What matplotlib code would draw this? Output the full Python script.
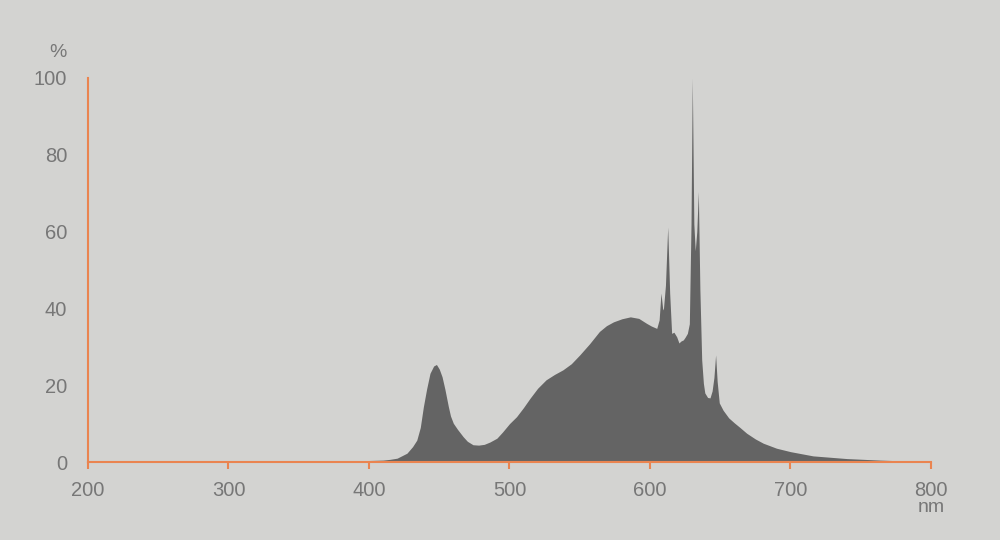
import matplotlib.pyplot as plt

# spectrum (wavelength nm, relative %)
wavelength = [380, 390, 400, 410, 415, 420, 427, 431, 434, 436.5, 438.7, 441, 443.4,
              446, 448, 450, 452, 454, 456.5, 458, 460, 463, 467, 470, 474, 478,
              482, 486, 491, 495, 500, 505, 510, 514.6, 520, 526, 532, 538, 544,
              550, 557, 564, 569, 574, 580, 586, 592, 597.6, 601, 604.8, 606.5,
              607.8, 609, 609.5, 611, 612.6, 614, 615.4, 617, 619, 620.6, 622,
              623.7, 625, 626.6, 628, 629.2, 630.1, 631.2, 632.2, 633.3, 634.4,
              635.5, 636.8, 638, 639, 641, 642.7, 644.2, 645.5, 646.7, 647.8,
              649.3, 652, 656, 660, 664, 668.8, 675, 680.6, 690, 700, 716, 740,
              763.7, 780]
intensity = [0.2, 0.3, 0.4, 0.5, 0.7, 1.0, 2.3, 4.0, 5.7, 9.0, 14.4, 19.0, 23.1,
             25.0, 25.4, 24.2, 22.2, 19.0, 14.4, 12.0, 10.1, 8.5, 6.6, 5.4, 4.5, 4.4,
             4.6, 5.2, 6.2, 7.8, 10.0, 11.8, 14.2, 16.6, 19.2, 21.4, 22.8, 24.0, 25.6,
             27.9, 30.8, 34.0, 35.5, 36.5, 37.3, 37.8, 37.4, 36.1, 35.4, 34.8, 37.0,
             44.0, 40.0, 39.6, 46.0, 61.2, 44.0, 33.5, 33.8, 32.6, 31.0, 31.5,
             31.8, 32.5, 33.5, 36.0, 62.0, 100.0, 62.0, 55.0, 60.0, 70.4,
             45.0, 26.6, 20.5, 18.0, 16.8, 16.7, 18.5, 22.0, 27.9, 21.0,
             15.4, 13.5, 11.5, 10.2, 9.0, 7.5, 6.0, 4.9, 3.6, 2.7, 1.6, 0.9,
             0.5, 0.3]

x_ticks = [200, 300, 400, 500, 600, 700, 800]
y_ticks = [0, 20, 40, 60, 80, 100]

bg = "#d3d3d1"
orange = "#ea8450"
label_grey = "#777777"

plt.rcParams["font.family"] = ["Liberation Sans", "DejaVu Sans"]

fig = plt.figure(figsize=(10, 5.4), dpi=100, facecolor=bg)
ax = fig.add_axes([0.088, 0.1444, 0.843, 0.7112], facecolor=bg)

ax.fill_between(wavelength, 0, intensity, color="#646464", linewidth=0, zorder=1)

ax.set_xlim(200, 800)
ax.set_ylim(0, 100)
ax.set_xticks(x_ticks)
ax.set_yticks(y_ticks)

for side in ("top", "right"):
    ax.spines[side].set_visible(False)
for side in ("left", "bottom"):
    ax.spines[side].set_color(orange)
    ax.spines[side].set_linewidth(1.5)
    ax.spines[side].set_zorder(3)

ax.tick_params(axis="x", direction="out", length=5, width=1.5, color=orange,
               labelsize=14.5, labelcolor=label_grey, pad=9)
ax.tick_params(axis="y", length=0, labelsize=14.5, labelcolor=label_grey, pad=15)

fig.text(0.058, 0.903, "%", ha="center", va="center", fontsize=14, color=label_grey)
fig.text(0.931, 0.06, "nm", ha="center", va="center", fontsize=14, color=label_grey)

fig.savefig("out.png", dpi=100, facecolor=bg)
